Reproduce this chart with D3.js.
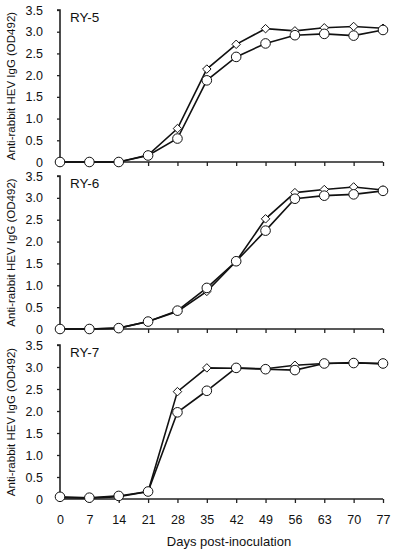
<!DOCTYPE html>
<html><head><meta charset="utf-8">
<script src="https://cdn.jsdelivr.net/npm/d3@7"></script>
<style>body{margin:0;background:#fff}svg{display:block}text{font-family:"Liberation Sans",Arial,sans-serif;fill:#111}</style>
</head><body>
<script>
const days = [0,7,14,21,28,35,42,49,56,63,70,77];
const yTicks = [0,0.5,1.0,1.5,2.0,2.5,3.0,3.5];
const panelNames = ["RY-5","RY-6","RY-7"];
const diamondRY5 = [0,0,0,0.16,0.77,2.14,2.71,3.07,3.02,3.09,3.12,3.08];
const circleRY5  = [0,0,0,0.15,0.54,1.88,2.42,2.73,2.92,2.95,2.91,3.04];
const diamondRY6 = [0,0,0.02,0.17,0.40,0.86,1.55,2.52,3.12,3.19,3.25,3.18];
const circleRY6  = [0,0,0.02,0.17,0.42,0.94,1.55,2.25,2.98,3.05,3.08,3.16];
const diamondRY7 = [0.03,0.02,0.05,0.17,2.44,2.98,2.97,2.96,3.04,3.08,3.10,3.07];
const circleRY7  = [0.05,0.03,0.07,0.17,1.97,2.46,2.98,2.95,2.93,3.08,3.09,3.08];
const diamonds = [diamondRY5, diamondRY6, diamondRY7];
const circles = [circleRY5, circleRY6, circleRY7];

const W = 397, H = 550;
const svg = d3.select("body").append("svg").attr("width", W).attr("height", H);
const x = d3.scaleLinear().domain([0,77]).range([60,383]);
const panels = [{top:10,bottom:162},{top:176,bottom:329},{top:345,bottom:499}];

panels.forEach((p,i)=>{
  const y = d3.scaleLinear().domain([0,3.5]).range([p.bottom,p.top]);
  const g = svg.append("g");
  const ya = g.append("g").attr("transform","translate(60,0)")
    .call(d3.axisLeft(y).tickValues(yTicks).tickSize(3).tickPadding(14)
      .tickFormat(d=> d===0 ? "0" : d3.format(".1f")(d)));
  const xa = g.append("g").attr("transform",`translate(0,${p.bottom})`)
    .call(d3.axisBottom(x).tickValues(days).tickSize(4).tickPadding(12).tickFormat(i===2? d3.format("d") : ""));
  [ya,xa].forEach(a=>{
    a.select(".domain").attr("stroke","#222").attr("stroke-width",1.6);
    a.selectAll(".tick line").attr("stroke","#222").attr("stroke-width",1.3);
    a.selectAll("text").style("font-size","12.5px").attr("fill","#111");
  });
  ya.select(".domain").attr("d",`M-3,${p.top}H0V${p.bottom}`);
  xa.select(".domain").attr("d",`M60,0H383`);
  xa.selectAll(".tick").filter(d=>d===0).select("line").remove();
  ya.selectAll(".tick").filter(d=>d===0).select("line").remove();

  g.append("text").attr("transform",`translate(15,${(p.top+p.bottom)/2}) rotate(-90)`)
    .attr("text-anchor","middle").style("font-size","11.5px").text("Anti-rabbit HEV IgG (OD492)");
  g.append("text").attr("x",70).attr("y",p.top+12).style("font-size","13.5px").text(panelNames[i]);

  const line = d3.line().x((d,j)=>x(days[j])).y(d=>y(d));
  g.append("path").datum(diamonds[i]).attr("d",line).attr("fill","none").attr("stroke","#111").attr("stroke-width",1.6);
  g.append("path").datum(circles[i]).attr("d",line).attr("fill","none").attr("stroke","#111").attr("stroke-width",1.6);
  g.selectAll(".dia").data(diamonds[i]).join("path").attr("class","dia")
    .attr("d",d3.symbol(d3.symbolDiamond2, 46)())
    .attr("transform",(d,j)=>`translate(${x(days[j])},${y(d)})`)
    .attr("fill","#fff").attr("stroke","#111").attr("stroke-width",1);
  g.selectAll(".cir").data(circles[i]).join("circle").attr("class","cir")
    .attr("cx",(d,j)=>x(days[j])).attr("cy",d=>y(d)).attr("r",4.8)
    .attr("fill","#fff").attr("stroke","#111").attr("stroke-width",1);
});
svg.append("text").attr("x",229).attr("y",546).attr("text-anchor","middle").style("font-size","13px").text("Days post-inoculation");
</script>
</body></html>
